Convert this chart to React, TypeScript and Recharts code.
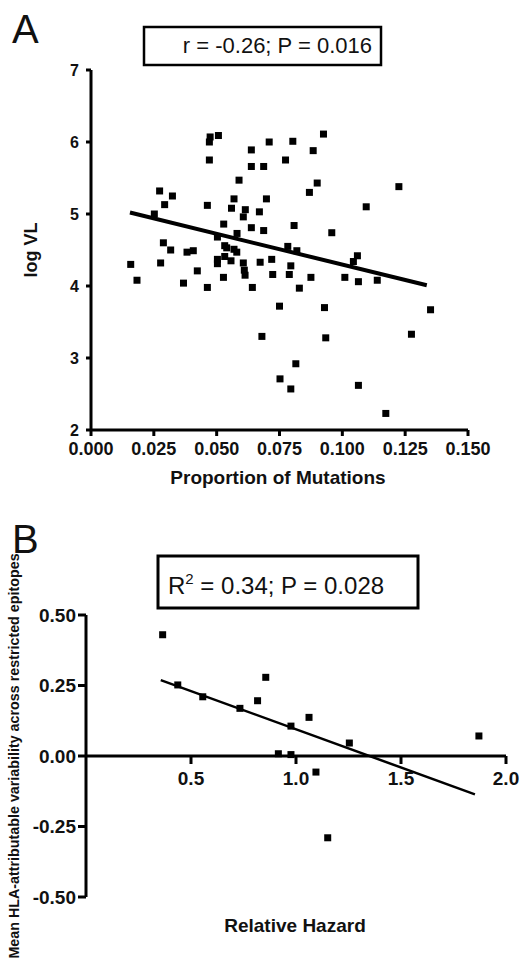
import React from 'react';
import { ScatterChart, Scatter, XAxis, YAxis, ReferenceLine } from 'recharts';

// ---------- Panel A data ----------
const mutationsX: number[] = [
  0.0474, 0.0507, 0.0471, 0.0709, 0.0638, 0.0471, 0.0638, 0.0687, 0.0589, 0.0273,
  0.0324, 0.0293, 0.0569, 0.0698, 0.0463, 0.0559, 0.0614, 0.0670, 0.0606, 0.0252,
  0.0528, 0.0803, 0.0925, 0.0884, 0.0774, 0.0900, 0.0869, 0.1225, 0.1095, 0.0808,
  0.0958, 0.0638, 0.0687, 0.0581, 0.0503, 0.0288, 0.0317, 0.0382, 0.0407, 0.0532,
  0.0540, 0.0569, 0.0580, 0.0532, 0.0557, 0.0503, 0.0503, 0.0606, 0.0610, 0.0613,
  0.0673, 0.0719, 0.0723, 0.0158, 0.0277, 0.0423, 0.0183, 0.0368, 0.0463, 0.0527,
  0.0642, 0.0750, 0.0680, 0.0783, 0.0819, 0.1060, 0.1044, 0.0795, 0.0789, 0.0875,
  0.1010, 0.1064, 0.1139, 0.0829, 0.0929, 0.1351, 0.1275, 0.0934, 0.0815, 0.0752,
  0.0795, 0.1064, 0.1173,
];
const logVL: number[] = [
  6.07, 6.09, 6.00, 6.00, 5.89, 5.75, 5.66, 5.66, 5.47, 5.32,
  5.25, 5.13, 5.21, 5.21, 5.12, 5.08, 5.06, 5.03, 4.96, 5.00,
  4.86, 6.01, 6.11, 5.88, 5.75, 5.43, 5.30, 5.38, 5.10, 4.84,
  4.74, 4.81, 4.77, 4.73, 4.68, 4.60, 4.50, 4.47, 4.49, 4.56,
  4.53, 4.51, 4.47, 4.41, 4.35, 4.37, 4.31, 4.32, 4.22, 4.15,
  4.33, 4.37, 4.16, 4.30, 4.32, 4.21, 4.08, 4.04, 3.98, 4.12,
  3.98, 3.72, 3.30, 4.55, 4.49, 4.42, 4.34, 4.28, 4.16, 4.12,
  4.12, 4.06, 4.08, 3.97, 3.70, 3.67, 3.33, 3.28, 2.92, 2.71,
  2.57, 2.62, 2.23,
];
const fitAX: number[] = [0.0155, 0.1336];
const fitAY: number[] = [5.02, 4.01];
const xTicksA: number[] = [0, 0.025, 0.05, 0.075, 0.1, 0.125, 0.15];
const yTicksA: number[] = [2, 3, 4, 5, 6, 7];

// ---------- Panel B data ----------
const hazardX: number[] = [0.365, 0.437, 0.556, 0.733, 0.817, 0.856, 1.062, 0.976, 1.254, 0.916, 0.976, 1.095, 1.871, 1.151];
const hlaY: number[] = [0.43, 0.252, 0.21, 0.169, 0.196, 0.279, 0.137, 0.106, 0.046, 0.008, 0.005, -0.057, 0.071, -0.29];
const fitBX: number[] = [0.356, 1.852];
const fitBY: number[] = [0.269, -0.136];
const xTicksB: number[] = [0.5, 1.0, 1.5, 2.0];
const yTicksB: number[] = [-0.5, -0.25, 0, 0.25, 0.5];

const pointsA = mutationsX.map((x, i) => ({ x, y: logVL[i] }));
const lineA = fitAX.map((x, i) => ({ x, y: fitAY[i] }));
const pointsB = hazardX.map((x, i) => ({ x, y: hlaY[i] }));
const lineB = fitBX.map((x, i) => ({ x, y: fitBY[i] }));

const FONT = '"Liberation Sans", Arial, Helvetica, sans-serif';

const Square = (props: any) => {
  const { cx, cy } = props;
  if (cx == null || cy == null) return <g />;
  return <rect x={cx - 3.5} y={cy - 3.5} width={7} height={7} fill="#000" />;
};
const NoShape = () => <g />;

// Panel B layout
const B_TOP = 115;
const B_PLOT_H = 282;
const B_ZERO_Y = B_TOP + B_PLOT_H / 2;

const BTick = (props: any) => {
  const { x, payload } = props;
  return (
    <g>
      <line x1={x} x2={x} y1={B_ZERO_Y} y2={B_ZERO_Y + 8} stroke="#000" strokeWidth={3} />
      <text x={x} y={B_ZERO_Y + 29} textAnchor="middle" fontFamily={FONT} fontWeight="bold" fontSize={19} fill="#111">
        {Number(payload.value).toFixed(1)}
      </text>
    </g>
  );
};

export default function App() {
  return (
    <div style={{ position: 'absolute', left: 0, top: 0, width: 525, height: 958, background: '#fff', fontFamily: FONT }}>
      <div style={{ position: 'absolute', left: 0, top: 0 }}>
        <ScatterChart width={525} height={500} margin={{ top: 70, right: 57, bottom: 10, left: 41 }}>
          <XAxis
            type="number"
            dataKey="x"
            domain={[0, 0.15]}
            ticks={xTicksA}
            interval={0}
            tickFormatter={(v: number) => v.toFixed(3)}
            height={60}
            axisLine={{ stroke: '#000', strokeWidth: 3 }}
            tickLine={{ stroke: '#000', strokeWidth: 3 }}
            tickSize={6}
            tickMargin={6}
            tick={{ fill: '#111', fontSize: 18, fontWeight: 'bold', fontFamily: FONT }}
          />
          <YAxis
            type="number"
            dataKey="y"
            domain={[2, 7]}
            ticks={yTicksA}
            interval={0}
            width={50}
            axisLine={{ stroke: '#000', strokeWidth: 3 }}
            tickLine={{ stroke: '#000', strokeWidth: 3 }}
            tickSize={5}
            tickMargin={7}
            tick={{ fill: '#111', fontSize: 16, fontWeight: 'bold', fontFamily: FONT }}
          />
          <Scatter data={pointsA} shape={Square} isAnimationActive={false} />
          <Scatter data={lineA} line={{ stroke: '#000', strokeWidth: 4 }} shape={NoShape} isAnimationActive={false} />
        </ScatterChart>
      </div>
      <div style={{ position: 'absolute', left: 0, top: 500 }}>
        <ScatterChart width={525} height={458} margin={{ top: B_TOP, right: 19, bottom: 60, left: 20 }}>
          <XAxis
            type="number"
            dataKey="x"
            domain={[0, 2]}
            ticks={xTicksB}
            interval={0}
            height={1}
            axisLine={false}
            tickLine={false}
            tick={BTick}
          />
          <YAxis
            type="number"
            dataKey="y"
            domain={[-0.5, 0.5]}
            ticks={yTicksB}
            interval={0}
            width={66}
            tickFormatter={(v: number) => v.toFixed(2)}
            axisLine={{ stroke: '#000', strokeWidth: 3 }}
            tickLine={{ stroke: '#000', strokeWidth: 3 }}
            tickSize={8}
            tickMargin={2}
            tick={{ fill: '#111', fontSize: 19, fontWeight: 'bold', fontFamily: FONT }}
          />
          <ReferenceLine y={0} stroke="#000" strokeWidth={3} />
          <Scatter data={pointsB} shape={Square} isAnimationActive={false} />
          <Scatter data={lineB} line={{ stroke: '#000', strokeWidth: 2.5 }} shape={NoShape} isAnimationActive={false} />
        </ScatterChart>
      </div>
      <svg width={525} height={958} style={{ position: 'absolute', left: 0, top: 0, pointerEvents: 'none' }}>
        <g fontFamily={FONT} fill="#111">
          <text x={12} y={43} fontSize={40}>A</text>
          <rect x={144} y={27} width={237} height={38} fill="#fff" stroke="#000" strokeWidth={2.5} />
          <text x={372} y={53} fontSize={22} textAnchor="end">r = -0.26; P = 0.016</text>
          <text transform="translate(37,250) rotate(-90)" textAnchor="middle" fontSize={18} fontWeight="bold">log VL</text>
          <text x={278} y={484} textAnchor="middle" fontSize={19} fontWeight="bold">Proportion of Mutations</text>

          <text x={12} y={553} fontSize={40}>B</text>
          <rect x={158} y={556} width={260} height={52} fill="#fff" stroke="#000" strokeWidth={3} />
          <text x={168} y={594} fontSize={24}>
            R<tspan fontSize={15} dy={-10}>2</tspan><tspan dy={10}> = 0.34; P = 0.028</tspan>
          </text>
          <text transform="translate(19,756) rotate(-90)" textAnchor="middle" fontSize={14.3} fontWeight="bold">Mean HLA-attributable variability across restricted epitopes</text>
          <text x={295} y={932} textAnchor="middle" fontSize={19} fontWeight="bold">Relative Hazard</text>
        </g>
      </svg>
    </div>
  );
}
